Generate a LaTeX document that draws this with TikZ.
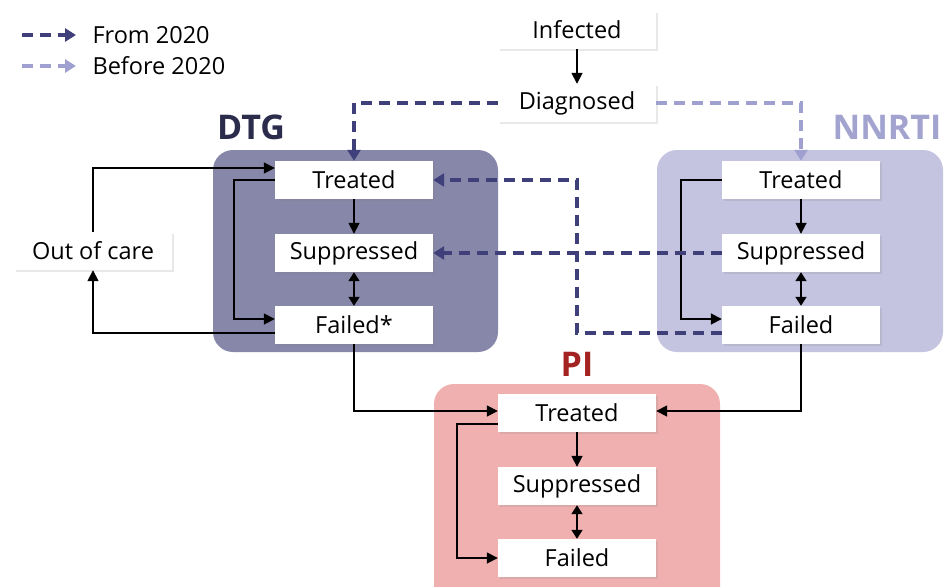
\documentclass[tikz,border=0pt]{standalone}
\usepackage{fontspec}
\setmainfont{Open Sans}
\usetikzlibrary{arrows.meta,shadows}
\definecolor{dtgfill}{HTML}{8787A9}
\definecolor{nnfill}{HTML}{C4C4E0}
\definecolor{pifill}{HTML}{F0B0B0}
\definecolor{dtgtxt}{HTML}{2B2B4C}
\definecolor{nntxt}{HTML}{A3A3CF}
\definecolor{pitxt}{HTML}{A32222}
\definecolor{fromc}{HTML}{3F3F7A}
\definecolor{beforec}{HTML}{A0A0D0}
\begin{document}
\begin{tikzpicture}[x=1pt,y=-1pt,
  state/.style={fill=white,minimum width=158pt,minimum height=38pt,inner sep=0pt,font=\fontsize{23.5}{27}\selectfont,
    drop shadow={shadow xshift=2pt,shadow yshift=-2pt,opacity=.18}},
  grp/.style={rounded corners=20pt},
  head/.style={font=\bfseries\fontsize{34}{40}\selectfont},
  arr/.style={-{Triangle[length=11pt,width=11pt]},line width=1.7pt},
  dbl/.style={{Triangle[length=9pt,width=11pt]}-{Triangle[length=9pt,width=11pt]},line width=1.7pt},
  newdash/.style={-{Triangle[length=11pt,width=13pt]},line width=3.8pt,draw=fromc,dash pattern=on 11pt off 7pt},
  olddash/.style={newdash,draw=beforec}]
\useasboundingbox (0,0) rectangle (944,586);
% groups
\fill[dtgfill,grp] (213,150) rectangle (498,352);
\fill[nnfill,grp] (657,150) rectangle (943,352);
\fill[pifill,grp] (434,384) rectangle (720,610);
\node[head,text=dtgtxt] (dtgL) at (251,127) {DTG};
\node[head,text=nntxt] (nnL) at (887,127) {NNRTI};
\node[head,text=pitxt] (piL) at (577,364) {PI};
% legend
\coordinate (fromA) at (22,35); \coordinate (fromB) at (76,35);
\coordinate (befA) at (22,66); \coordinate (befB) at (76,66);
\draw[newdash] (fromA) -- (fromB);
\draw[olddash] (befA) -- (befB);
\node[anchor=west,font=\fontsize{23.5}{27}\selectfont] (fromT) at (89,35) {From 2020};
\node[anchor=west,font=\fontsize{23.5}{27}\selectfont] (befT) at (89,66) {Before 2020};
% states
\node[state] (inf) at (577,30) {Infected};
\node[state] (diag) at (577,103) {Diagnosed};
\node[state] (care) at (93,251) {Out of care};
\foreach \g/\x/\y in {dtg/354/180,nn/801/180,pi/577/413}{
  \node[state] (\g T) at (\x,\y) {Treated};
  \node[state] (\g S) at (\x,\y+73) {Suppressed};
  \draw[arr] (\g T) -- (\g S);
}
\node[state] (dtgF) at (354,325) {Failed*};
\node[state] (nnF) at (801,325) {Failed};
\node[state] (piF) at (577,558) {Failed};
\foreach \g in {dtg,nn,pi}{\draw[dbl] (\g S) -- (\g F);}
% solid transitions
\draw[arr] (inf) -- (diag);
\draw[arr] (care.north) |- ([yshift=12pt]dtgT.west);
\draw[arr] ([yshift=-8pt]dtgF.west) -| (care.south);
\draw[arr] (dtgT.west) -- ++(-41,0) |- ([yshift=6pt]dtgF.west);
\draw[arr] (nnT.west) -- ++(-41,0) |- ([yshift=6pt]nnF.west);
\draw[arr] ([yshift=-11pt]piT.west) -- ++(-41,0) |- (piF.west);
\draw[arr] (dtgF.south) |- ([yshift=2pt]piT.west);
\draw[arr] (nnF.south) |- ([yshift=2pt]piT.east);
% switches
\draw[newdash] (diag.west) -| (dtgT.north);
\draw[olddash] (diag.east) -| (nnT.north);
\draw[newdash] (nnS.west) -- (dtgS.east);
\draw[newdash] ([yshift=-8pt]nnF.west) -| (diag.south |- dtgT.east) -- (dtgT.east);
\end{tikzpicture}
\end{document}
